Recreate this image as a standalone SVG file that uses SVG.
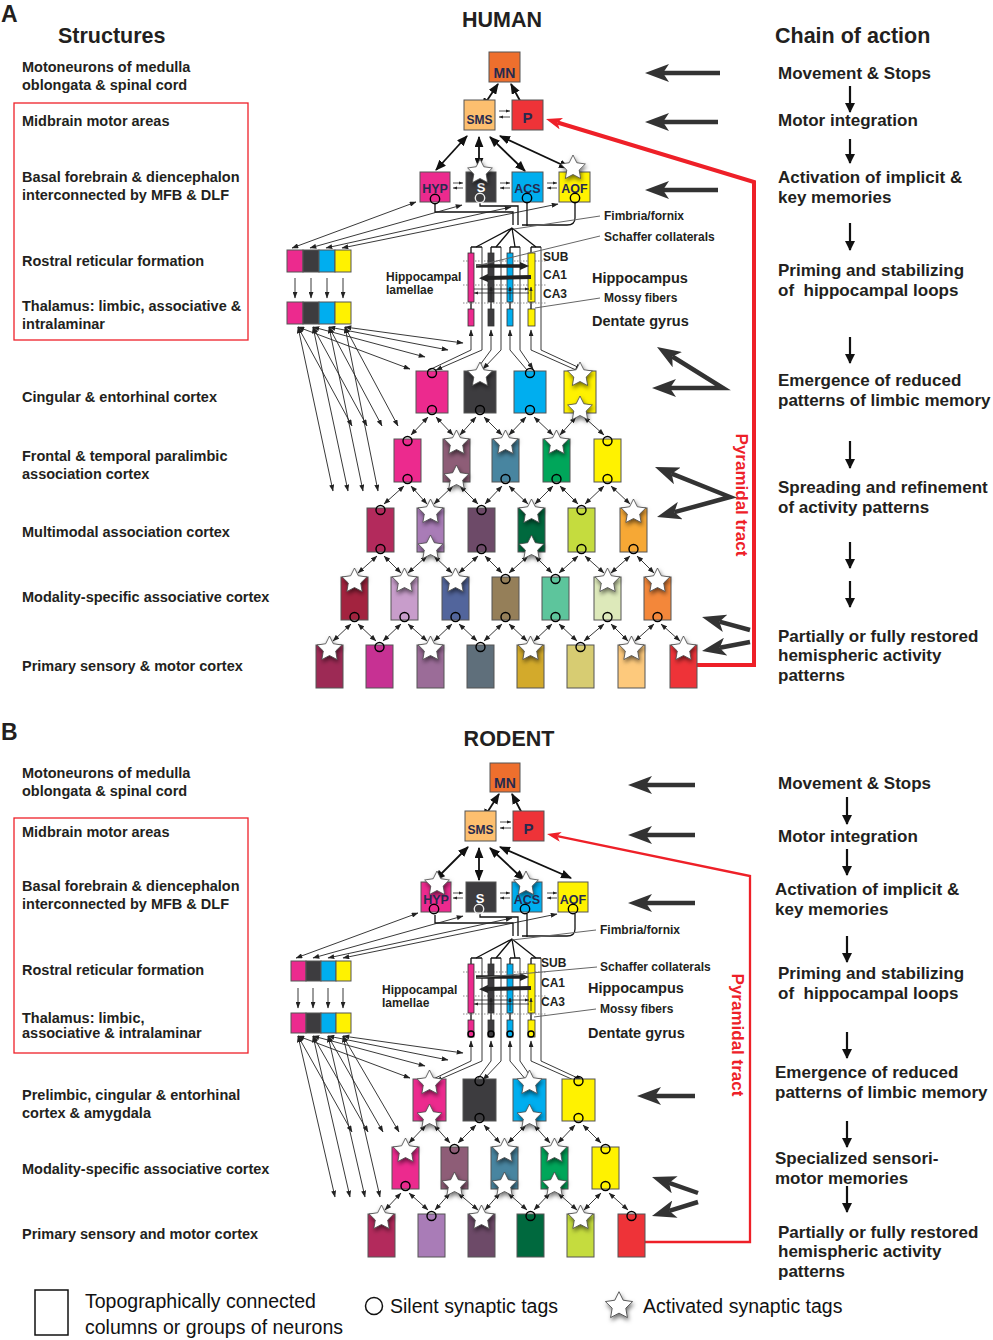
<svg xmlns="http://www.w3.org/2000/svg" xmlns:xlink="http://www.w3.org/1999/xlink" width="993" height="1340" viewBox="0 0 993 1340">
<style>
.t{font-family:"Liberation Sans",Arial,Helvetica,sans-serif;font-weight:bold;fill:#231F20}
.l{font-size:14.5px}
.r{font-size:17px}
.h{font-size:21.5px}
.s{font-size:12px}
.m{font-size:14.5px}
.bl{font-family:"Liberation Sans",Arial,Helvetica,sans-serif;font-weight:bold;fill:#262a4f;text-anchor:middle}
.lg{font-family:"Liberation Sans",Arial,sans-serif;font-size:19.5px;fill:#111}
.bx{stroke:#555;stroke-width:1}
.tg{fill:none;stroke:#000;stroke-width:1.4}
.cn{stroke:#222;stroke-width:0.9;fill:none;marker-start:url(#sa);marker-end:url(#sa)}
.c1{stroke:#222;stroke-width:0.9;fill:none;marker-end:url(#sa)}
.w{stroke:#111;stroke-width:1.3;fill:none}
.md{stroke:#111;stroke-width:1.8;fill:none;marker-start:url(#ma);marker-end:url(#ma)}
.m1{stroke:#111;stroke-width:1.8;fill:none;marker-end:url(#ma)}
.ga{stroke:#333;stroke-width:4.5;fill:none;marker-end:url(#ga)}
.gv{stroke:#333;stroke-width:4.5;fill:none;stroke-linejoin:miter;marker-start:url(#ga);marker-end:url(#ga)}
.da{stroke:#111;stroke-width:2.2;marker-end:url(#da)}
.ld{stroke:#666;stroke-width:1;fill:none}
.dt{stroke:#888;stroke-width:1;stroke-dasharray:1.5 1.5;fill:none}
.tw{stroke:#222;stroke-width:0.8;marker-end:url(#ta)}
.pt{font-family:"Liberation Sans",Arial,sans-serif;font-weight:bold;font-size:17px;fill:#EE2028;text-anchor:middle}
</style>
<defs>
<filter id="sh" x="-50%" y="-50%" width="200%" height="200%"><feDropShadow dx="1" dy="2.5" stdDeviation="2" flood-color="#000" flood-opacity="0.55"/></filter>
<polygon id="st" points="0,-13 3.82,-5.26 12.36,-4.02 6.18,2.01 7.64,10.52 0,6.5 -7.64,10.52 -6.18,2.01 -12.36,-4.02 -3.82,-5.26" fill="#fff" stroke="#444" stroke-width="0.8" filter="url(#sh)"/>
<marker id="sa" viewBox="0 0 8 6" refX="7.5" refY="3" markerWidth="7" markerHeight="5" markerUnits="userSpaceOnUse" orient="auto-start-reverse"><path d="M0,0L8,3L0,6z" fill="#222"/></marker>
<marker id="ta" viewBox="0 0 8 6" refX="7.5" refY="3" markerWidth="4.5" markerHeight="3.5" markerUnits="userSpaceOnUse" orient="auto-start-reverse"><path d="M0,0L8,3L0,6z" fill="#222"/></marker>
<marker id="ma" viewBox="0 0 10 8" refX="9" refY="4" markerWidth="11" markerHeight="9" markerUnits="userSpaceOnUse" orient="auto-start-reverse"><path d="M0,0L10,4L0,8z" fill="#111"/></marker>
<marker id="ka" viewBox="0 0 9 8" refX="2" refY="4" markerWidth="9" markerHeight="8" markerUnits="userSpaceOnUse" orient="auto"><path d="M0,0L9,4L0,8z" fill="#222"/></marker>
<marker id="da" viewBox="0 0 10 10" refX="9" refY="5" markerWidth="10" markerHeight="10" markerUnits="userSpaceOnUse" orient="auto"><path d="M0,0L10,5L0,10z" fill="#111"/></marker>
<marker id="ga" viewBox="0 0 24 18" refX="6" refY="9" markerWidth="24" markerHeight="18" markerUnits="userSpaceOnUse" orient="auto-start-reverse"><path d="M24,9L0,0L6,9L0,18z" fill="#333"/></marker>
<marker id="ra" viewBox="0 0 16 12" refX="4" refY="6" markerWidth="16" markerHeight="12" markerUnits="userSpaceOnUse" orient="auto"><path d="M16,6L0,0L4,6L0,12z" fill="#EE2028"/></marker>
<marker id="rb" viewBox="0 0 14 10" refX="3.5" refY="5" markerWidth="14" markerHeight="10" markerUnits="userSpaceOnUse" orient="auto"><path d="M14,5L0,0L3.5,5L0,10z" fill="#EE2028"/></marker>
<g id="hc">
<path class="w" d="M435,204V212H513V225M480,203V206H518V225M527,203V226M575,203V218Q575,225 567,225H522"/>
<path class="w" d="M512,228L476,247M512,228L496,247M512,228L515,247M512,228L536,247"/>
<path class="w" d="M471,247H482M491,247H501M510,247H520M531,247H541M471,247V309M491,247V309M510,247V309M531,247V309"/>
<path class="c1" d="M482,247V350L436,370"/>
<path class="c1" d="M501,247V350L483,369"/>
<path class="c1" d="M520,247V350L533,369"/>
<path class="c1" d="M541,247V350L582,369"/>
<path class="c1" d="M429,370L471,350V330"/>
<path class="c1" d="M477,369L491,350V330"/>
<path class="c1" d="M527,370L510,350V330"/>
<path class="c1" d="M576,370L531,350V330"/>
<path class="dt" d="M463,261H547M463,285H547M463,303H547"/>
<rect x="468" y="253" width="6" height="49" fill="#EC2A8E" stroke="#333" stroke-width="0.8"/>
<rect x="488" y="253" width="6" height="49" fill="#3D3C3F" stroke="#333" stroke-width="0.8"/>
<rect x="507" y="253" width="6" height="49" fill="#00AEEF" stroke="#333" stroke-width="0.8"/>
<rect x="528" y="253" width="7" height="49" fill="#FFF200" stroke="#333" stroke-width="0.8"/>
<rect x="468" y="309" width="6" height="17" fill="#EC2A8E" stroke="#333" stroke-width="0.8"/>
<rect x="488" y="309" width="6" height="17" fill="#3D3C3F" stroke="#333" stroke-width="0.8"/>
<rect x="507" y="309" width="6" height="17" fill="#00AEEF" stroke="#333" stroke-width="0.8"/>
<rect x="528" y="309" width="7" height="17" fill="#FFF200" stroke="#333" stroke-width="0.8"/>
<path d="M476,266H522" stroke="#222" stroke-width="3.5" marker-end="url(#ka)"/>
<path d="M531,277L486,278" stroke="#222" stroke-width="4" marker-end="url(#ka)"/>
<path class="tw" d="M474,289H529"/>
<path class="tw" d="M529,293H474"/>
<path class="tw" d="M491,300V287"/>
<path class="tw" d="M510,300V287"/>
<path class="tw" d="M531,300V287"/>
</g>
</defs>
<rect width="993" height="1340" fill="#fff"/>

<g id="titles">
<text class="t" x="1" y="22" font-size="23">A</text>
<text class="t" x="1" y="740" font-size="23">B</text>
<text class="t h" x="502" y="27" text-anchor="middle">HUMAN</text>
<text class="t h" x="509" y="746" text-anchor="middle">RODENT</text>
<text class="t h" x="58" y="43">Structures</text>
<text class="t h" x="775" y="43">Chain of action</text>
</g>

<g id="human-structures">
<rect x="14" y="103" width="234" height="237" fill="none" stroke="#EE2028" stroke-width="1.3"/>
<text class="t l" x="22" y="72">Motoneurons of medulla</text>
<text class="t l" x="22" y="90">oblongata &amp; spinal cord</text>
<text class="t l" x="22" y="126">Midbrain motor areas</text>
<text class="t l" x="22" y="182">Basal forebrain &amp; diencephalon</text>
<text class="t l" x="22" y="200">interconnected by MFB &amp; DLF</text>
<text class="t l" x="22" y="266">Rostral reticular formation</text>
<text class="t l" x="22" y="311">Thalamus: limbic, associative &amp;</text>
<text class="t l" x="22" y="329">intralaminar</text>
<text class="t l" x="22" y="402">Cingular &amp; entorhinal cortex</text>
<text class="t l" x="22" y="461">Frontal &amp; temporal paralimbic</text>
<text class="t l" x="22" y="479">association cortex</text>
<text class="t l" x="22" y="537">Multimodal association cortex</text>
<text class="t l" x="22" y="602">Modality-specific associative cortex</text>
<text class="t l" x="22" y="671">Primary sensory &amp; motor cortex</text>
</g>

<g id="rodent-structures">
<rect x="14" y="818" width="234" height="235" fill="none" stroke="#EE2028" stroke-width="1.3"/>
<text class="t l" x="22" y="778">Motoneurons of medulla</text>
<text class="t l" x="22" y="796">oblongata &amp; spinal cord</text>
<text class="t l" x="22" y="837">Midbrain motor areas</text>
<text class="t l" x="22" y="891">Basal forebrain &amp; diencephalon</text>
<text class="t l" x="22" y="909">interconnected by MFB &amp; DLF</text>
<text class="t l" x="22" y="975">Rostral reticular formation</text>
<text class="t l" x="22" y="1023">Thalamus: limbic,</text>
<text class="t l" x="22" y="1038">associative &amp; intralaminar</text>
<text class="t l" x="22" y="1100">Prelimbic, cingular &amp; entorhinal</text>
<text class="t l" x="22" y="1118">cortex &amp; amygdala</text>
<text class="t l" x="22" y="1174">Modality-specific associative cortex</text>
<text class="t l" x="22" y="1239">Primary sensory and motor cortex</text>
</g>

<g id="human-chain">
<text class="t r" x="778" y="79">Movement &amp; Stops</text>
<text class="t r" x="778" y="126">Motor integration</text>
<text class="t r" x="778" y="183">Activation of implicit &amp;</text>
<text class="t r" x="778" y="203">key memories</text>
<text class="t r" x="778" y="276">Priming and stabilizing</text>
<text class="t r" x="778" y="296" xml:space="preserve">of  hippocampal loops</text>
<text class="t r" x="778" y="386">Emergence of reduced</text>
<text class="t r" x="778" y="406">patterns of limbic memory</text>
<text class="t r" x="778" y="493">Spreading and refinement</text>
<text class="t r" x="778" y="513">of activity patterns</text>
<text class="t r" x="778" y="642">Partially or fully restored</text>
<text class="t r" x="778" y="661">hemispheric activity</text>
<text class="t r" x="778" y="681">patterns</text>
</g>

<g id="rodent-chain">
<text class="t r" x="778" y="789">Movement &amp; Stops</text>
<text class="t r" x="778" y="842">Motor integration</text>
<text class="t r" x="775" y="895">Activation of implicit &amp;</text>
<text class="t r" x="775" y="915">key memories</text>
<text class="t r" x="778" y="979">Priming and stabilizing</text>
<text class="t r" x="778" y="999" xml:space="preserve">of  hippocampal loops</text>
<text class="t r" x="775" y="1078">Emergence of reduced</text>
<text class="t r" x="775" y="1098">patterns of limbic memory</text>
<text class="t r" x="775" y="1164">Specialized sensori-</text>
<text class="t r" x="775" y="1184">motor memories</text>
<text class="t r" x="778" y="1238">Partially or fully restored</text>
<text class="t r" x="778" y="1257">hemispheric activity</text>
<text class="t r" x="778" y="1277">patterns</text>
</g>

<g id="hippocampus-labels">
<text class="t s" x="604" y="220">Fimbria/fornix</text>
<text class="t s" x="604" y="241">Schaffer collaterals</text>
<text class="t s" x="543" y="261">SUB</text>
<text class="t s" x="543" y="279">CA1</text>
<text class="t s" x="543" y="298">CA3</text>
<text class="t s" x="386" y="281">Hippocampal</text>
<text class="t s" x="386" y="294">lamellae</text>
<text class="t m" x="592" y="283">Hippocampus</text>
<text class="t s" x="604" y="302">Mossy fibers</text>
<text class="t m" x="592" y="326">Dentate gyrus</text>
<text class="t s" x="600" y="934">Fimbria/fornix</text>
<text class="t s" x="600" y="971">Schaffer collaterals</text>
<text class="t s" x="541" y="967">SUB</text>
<text class="t s" x="541" y="987">CA1</text>
<text class="t s" x="541" y="1006">CA3</text>
<text class="t s" x="382" y="994">Hippocampal</text>
<text class="t s" x="382" y="1007">lamellae</text>
<text class="t m" x="588" y="993">Hippocampus</text>
<text class="t s" x="600" y="1013">Mossy fibers</text>
<text class="t m" x="588" y="1038">Dentate gyrus</text>
<text class="pt" transform="translate(736,495) rotate(90)">Pyramidal tract</text>
<text class="pt" transform="translate(732,1035) rotate(90)">Pyramidal tract</text>
</g>

<g id="connectors">
<use href="#hc"/>
<use href="#hc" y="711"/>
<path class="ld" d="M600,216L514,229M600,236L476,266M600,298L535,308"/>
<path class="ld" d="M596,930L512,940M597,967L476,978M596,1009L534,1017"/>
<path class="md" d="M482,108L498,84"/>
<path class="m1" d="M525,110L511,84"/>
<path class="md" d="M467,136L436,170"/>
<path class="md" d="M479,137V168"/>
<path class="md" d="M490,137L525,171"/>
<path class="md" d="M500,136L569,168"/>
<path class="tw" d="M499,111H510"/><path class="tw" d="M510,117H499"/>
<path class="tw" d="M453,183H463"/><path class="tw" d="M463,188H453"/>
<path class="tw" d="M500,183H510"/><path class="tw" d="M510,188H500"/>
<path class="tw" d="M547,183H557"/><path class="tw" d="M557,188H547"/>
<path class="md" d="M483,819L499,794"/>
<path class="m1" d="M526,821L512,794"/>
<path class="md" d="M468,847L435,880"/>
<path class="md" d="M479,848V880"/>
<path class="md" d="M490,848L524,880"/>
<path class="md" d="M500,847L571,878"/>
<path class="tw" d="M500,822H511"/><path class="tw" d="M511,828H500"/>
<path class="tw" d="M453,893H463"/><path class="tw" d="M463,898H453"/>
<path class="tw" d="M500,893H510"/><path class="tw" d="M510,898H500"/>
<path class="tw" d="M547,893H557"/><path class="tw" d="M557,898H547"/>
<path class="cn" d="M292,248L416,202"/><path class="cn" d="M310,248L462,205"/><path class="cn" d="M326,248L511,207"/><path class="cn" d="M342,248L558,204"/>
<path class="c1" d="M295,278V298"/><path class="c1" d="M311,278V298"/><path class="c1" d="M327,278V298"/><path class="c1" d="M343,278V298"/>
<path class="cn" d="M298,327L410,369"/><path class="cn" d="M298,327L352,426"/><path class="cn" d="M298,327L333,491"/>
<path class="cn" d="M313,327L425,357"/><path class="cn" d="M313,327L367,426"/><path class="cn" d="M313,327L348,491"/>
<path class="cn" d="M329,327L448,350"/><path class="cn" d="M329,327L382,426"/><path class="cn" d="M329,327L363,491"/>
<path class="cn" d="M345,327L463,343"/><path class="cn" d="M345,327L398,426"/><path class="cn" d="M345,327L378,491"/>
<path class="cn" d="M296,958L418,913"/><path class="cn" d="M313,958L463,916"/><path class="cn" d="M328,958L512,918"/><path class="cn" d="M343,958L557,914"/>
<path class="c1" d="M298,988V1008"/><path class="c1" d="M313,988V1008"/><path class="c1" d="M328,988V1008"/><path class="c1" d="M343,988V1008"/>
<path class="cn" d="M298,1036L410,1078"/><path class="cn" d="M298,1036L352,1132"/><path class="cn" d="M298,1036L335,1197"/>
<path class="cn" d="M313,1036L425,1066"/><path class="cn" d="M313,1036L368,1132"/><path class="cn" d="M313,1036L350,1197"/>
<path class="cn" d="M328,1036L448,1060"/><path class="cn" d="M328,1036L383,1132"/><path class="cn" d="M328,1036L365,1197"/>
<path class="cn" d="M343,1036L463,1053"/><path class="cn" d="M343,1036L399,1132"/><path class="cn" d="M343,1036L380,1197"/>
<path class="cn" d="M428,417L411,435"/><path class="cn" d="M436,417L453,435"/><path class="cn" d="M476,417L460,435"/><path class="cn" d="M484,417L502,435"/><path class="cn" d="M526,417L509,435"/><path class="cn" d="M534,417L553,435"/><path class="cn" d="M576,417L560,435"/><path class="cn" d="M584,417L604,435"/>
<path class="cn" d="M404,486L384,504"/><path class="cn" d="M411,486L427,504"/><path class="cn" d="M453,486L434,504"/><path class="cn" d="M460,486L478,504"/><path class="cn" d="M502,486L485,504"/><path class="cn" d="M509,486L528,504"/><path class="cn" d="M553,486L535,504"/><path class="cn" d="M560,486L578,504"/><path class="cn" d="M604,486L585,504"/><path class="cn" d="M611,486L630,504"/>
<path class="cn" d="M377,556L358,573"/><path class="cn" d="M384,556L401,573"/><path class="cn" d="M427,556L408,573"/><path class="cn" d="M434,556L452,573"/><path class="cn" d="M478,556L459,573"/><path class="cn" d="M485,556L502,573"/><path class="cn" d="M528,556L509,573"/><path class="cn" d="M535,556L552,573"/><path class="cn" d="M578,556L559,573"/><path class="cn" d="M585,556L604,573"/><path class="cn" d="M630,556L611,573"/><path class="cn" d="M637,556L654,573"/>
<path class="cn" d="M351,624L333,641"/><path class="cn" d="M358,624L376,641"/><path class="cn" d="M401,624L383,641"/><path class="cn" d="M408,624L427,641"/><path class="cn" d="M452,624L434,641"/><path class="cn" d="M459,624L477,641"/><path class="cn" d="M502,624L484,641"/><path class="cn" d="M509,624L527,641"/><path class="cn" d="M552,624L534,641"/><path class="cn" d="M559,624L577,641"/><path class="cn" d="M604,624L584,641"/><path class="cn" d="M611,624L628,641"/><path class="cn" d="M654,624L635,641"/><path class="cn" d="M661,624L680,641"/>
<path class="cn" d="M426,1125L409,1143"/><path class="cn" d="M434,1125L450,1143"/><path class="cn" d="M476,1125L458,1143"/><path class="cn" d="M484,1125L500,1143"/><path class="cn" d="M526,1125L508,1143"/><path class="cn" d="M534,1125L550,1143"/><path class="cn" d="M575,1125L558,1143"/><path class="cn" d="M583,1125L601,1143"/>
<path class="cn" d="M401,1193L385,1210"/><path class="cn" d="M409,1193L428,1210"/><path class="cn" d="M450,1193L435,1210"/><path class="cn" d="M458,1193L478,1210"/><path class="cn" d="M500,1193L485,1210"/><path class="cn" d="M508,1193L527,1210"/><path class="cn" d="M550,1193L534,1210"/><path class="cn" d="M558,1193L577,1210"/><path class="cn" d="M601,1193L584,1210"/><path class="cn" d="M609,1193L628,1210"/>
<path d="M697,665H754V182L557.5,122.5" fill="none" stroke="#EE2028" stroke-width="4" marker-end="url(#ra)"/>
<path d="M645,1242H750V876L557.3,836.1" fill="none" stroke="#EE2028" stroke-width="2.3" marker-end="url(#rb)"/>
<path class="ga" d="M720,73H663"/>
<path class="ga" d="M718,122H663"/>
<path class="ga" d="M718,190H663"/>
<path class="gv" d="M672.3,356.5L723,388L670,388"/>
<path class="gv" d="M671.7,473.7L730,497L674.4,512.2"/>
<path class="ga" d="M750,630L719.4,621.7"/>
<path class="ga" d="M750,642L719.7,647.7"/>
<path class="ga" d="M695,785H646"/>
<path class="ga" d="M695,835H646"/>
<path class="ga" d="M695,903H646"/>
<path class="ga" d="M695,1096H655"/>
<path class="ga" d="M698,1193L669,1182.9"/>
<path class="ga" d="M698,1202L669.2,1210.8"/>
<path class="da" d="M850,86V112"/><path class="da" d="M850,139V163"/><path class="da" d="M850,223V250"/><path class="da" d="M850,337V363"/><path class="da" d="M850,441V468"/><path class="da" d="M850,542V568"/><path class="da" d="M850,581V607"/>
<path class="da" d="M847,797V824"/><path class="da" d="M847,849V875"/><path class="da" d="M847,936V962"/><path class="da" d="M847,1032V1058"/><path class="da" d="M847,1121V1147"/><path class="da" d="M847,1186V1212"/>
</g>

<g id="human-top">
<g id="h-MN"><rect class="bx" x="489" y="52" width="31" height="30" fill="#EE6F2D"/><text class="bl" x="504.5" y="78" font-size="14">MN</text></g>
<g id="h-SMS"><rect class="bx" x="464" y="100" width="31" height="30" fill="#FDBF6F"/><text class="bl" x="479.5" y="124" font-size="12">SMS</text></g>
<g id="h-P"><rect class="bx" x="512" y="100" width="31" height="30" fill="#EE3338"/><text class="bl" x="527.5" y="123" font-size="15">P</text></g>
<g id="h-HYP"><rect class="bx" x="420" y="172" width="30" height="30" fill="#EC2A8E"/><text class="bl" x="435" y="193" font-size="12.5">HYP</text><circle class="tg" cx="435" cy="199" r="4.7"/></g>
<g id="h-S"><rect class="bx" x="466" y="172" width="30" height="30" fill="#3D3C3F"/><text class="bl" x="481" y="192" font-size="13" style="fill:#fff">S</text><circle class="tg" cx="480" cy="198" r="4.7" style="stroke:#eee"/><use href="#st" x="480" y="172"/></g>
<g id="h-ACS"><rect class="bx" x="512" y="172" width="31" height="30" fill="#00AEEF"/><text class="bl" x="527.5" y="193" font-size="12.5">ACS</text><circle class="tg" cx="527" cy="198" r="4.7"/></g>
<g id="h-AOF"><rect class="bx" x="559" y="172" width="31" height="30" fill="#FFF200"/><text class="bl" x="574.5" y="193" font-size="12.5">AOF</text><circle class="tg" cx="575" cy="198" r="4.7"/><use href="#st" x="573" y="168"/></g>
</g>

<g id="rodent-top">
<g id="r-MN"><rect class="bx" x="490" y="763" width="30" height="29" fill="#EE6F2D"/><text class="bl" x="505" y="788" font-size="14">MN</text></g>
<g id="r-SMS"><rect class="bx" x="465" y="811" width="31" height="30" fill="#FDBF6F"/><text class="bl" x="480.5" y="834" font-size="12">SMS</text></g>
<g id="r-P"><rect class="bx" x="513" y="811" width="31" height="30" fill="#EE3338"/><text class="bl" x="528.5" y="834" font-size="15">P</text></g>
<g id="r-HYP"><rect class="bx" x="421" y="882" width="30" height="30" fill="#EC2A8E"/><use href="#st" x="437" y="884"/><text class="bl" x="436" y="904" font-size="12.5">HYP</text><circle class="tg" cx="434" cy="909" r="4.7"/></g>
<g id="r-S"><rect class="bx" x="466" y="882" width="30" height="30" fill="#3D3C3F"/><text class="bl" x="480" y="903" font-size="13" style="fill:#fff">S</text><circle class="tg" cx="479" cy="909" r="4.7" style="stroke:#eee"/></g>
<g id="r-ACS"><rect class="bx" x="512" y="882" width="30" height="30" fill="#00AEEF"/><use href="#st" x="526" y="884"/><text class="bl" x="527" y="904" font-size="12.5">ACS</text><circle class="tg" cx="525" cy="909" r="4.7"/></g>
<g id="r-AOF"><rect class="bx" x="558" y="882" width="30" height="30" fill="#FFF200"/><text class="bl" x="573" y="904" font-size="12.5">AOF</text><circle class="tg" cx="573" cy="909" r="4.7"/></g>
</g>

<g id="human-thalamic-bars">
<g id="h-bar1"><rect class="bx" x="287" y="250" width="16" height="22" fill="#EC2A8E"/><rect class="bx" x="303" y="250" width="16" height="22" fill="#3D3C3F"/><rect class="bx" x="319" y="250" width="16" height="22" fill="#00AEEF"/><rect class="bx" x="335" y="250" width="16" height="22" fill="#FFF200"/></g>
<g id="h-bar2"><rect class="bx" x="287" y="302" width="16" height="22" fill="#EC2A8E"/><rect class="bx" x="303" y="302" width="16" height="22" fill="#3D3C3F"/><rect class="bx" x="319" y="302" width="16" height="22" fill="#00AEEF"/><rect class="bx" x="335" y="302" width="16" height="22" fill="#FFF200"/></g>
</g>
<g id="rodent-thalamic-bars">
<g id="r-bar1"><rect class="bx" x="291" y="961" width="15" height="20" fill="#EC2A8E"/><rect class="bx" x="306" y="961" width="15" height="20" fill="#3D3C3F"/><rect class="bx" x="321" y="961" width="15" height="20" fill="#00AEEF"/><rect class="bx" x="336" y="961" width="15" height="20" fill="#FFF200"/></g>
<g id="r-bar2"><rect class="bx" x="291" y="1013" width="15" height="20" fill="#EC2A8E"/><rect class="bx" x="306" y="1013" width="15" height="20" fill="#3D3C3F"/><rect class="bx" x="321" y="1013" width="15" height="20" fill="#00AEEF"/><rect class="bx" x="336" y="1013" width="15" height="20" fill="#FFF200"/></g>
<g id="r-dg-tags"><circle class="tg" cx="471" cy="1034" r="3" stroke-width="1"/><circle class="tg" cx="491" cy="1034" r="3" stroke-width="1"/><circle class="tg" cx="510" cy="1034" r="3" stroke-width="1"/><circle class="tg" cx="531" cy="1034" r="3" stroke-width="1"/></g>
</g>

<g id="human-row1">
<g id="h11"><rect class="bx" x="416" y="371" width="32" height="42" fill="#EC2A8E"/><circle class="tg" cx="432" cy="373" r="4.5"/><circle class="tg" cx="432" cy="410" r="4.5"/></g>
<g id="h12"><rect class="bx" x="464" y="371" width="32" height="42" fill="#3D3C3F"/><use href="#st" x="480" y="375"/><circle class="tg" cx="480" cy="410" r="4.5"/></g>
<g id="h13"><rect class="bx" x="514" y="371" width="32" height="42" fill="#00AEEF"/><circle class="tg" cx="530" cy="373" r="4.5"/><circle class="tg" cx="530" cy="410" r="4.5"/></g>
<g id="h14"><rect class="bx" x="564" y="371" width="32" height="42" fill="#FFF200"/><use href="#st" x="580" y="375"/><use href="#st" x="580" y="409"/></g>
</g>
<g id="human-row2">
<g id="h21"><rect class="bx" x="394" y="439" width="27" height="43" fill="#EC2A8E"/><circle class="tg" cx="407.5" cy="441" r="4.5"/><circle class="tg" cx="407.5" cy="479" r="4.5"/></g>
<g id="h22"><rect class="bx" x="443" y="439" width="27" height="43" fill="#8E5D77"/><use href="#st" x="456.5" y="443"/><use href="#st" x="456.5" y="478"/></g>
<g id="h23"><rect class="bx" x="492" y="439" width="27" height="43" fill="#4885A0"/><use href="#st" x="505.5" y="443"/><circle class="tg" cx="505.5" cy="479" r="4.5"/></g>
<g id="h24"><rect class="bx" x="543" y="439" width="27" height="43" fill="#00A65A"/><use href="#st" x="556.5" y="443"/><circle class="tg" cx="556.5" cy="479" r="4.5"/></g>
<g id="h25"><rect class="bx" x="594" y="439" width="27" height="43" fill="#FFF200"/><circle class="tg" cx="607.5" cy="441" r="4.5"/><circle class="tg" cx="607.5" cy="479" r="4.5"/></g>
</g>
<g id="human-row3">
<g id="h31"><rect class="bx" x="367" y="508" width="27" height="44" fill="#B32A5C"/><circle class="tg" cx="380.5" cy="510" r="4.5"/><circle class="tg" cx="380.5" cy="549" r="4.5"/></g>
<g id="h32"><rect class="bx" x="417" y="508" width="27" height="44" fill="#A97CB7"/><use href="#st" x="430.5" y="512"/><use href="#st" x="430.5" y="548"/></g>
<g id="h33"><rect class="bx" x="468" y="508" width="27" height="44" fill="#6D4A68"/><circle class="tg" cx="481.5" cy="510" r="4.5"/><circle class="tg" cx="481.5" cy="549" r="4.5"/></g>
<g id="h34"><rect class="bx" x="518" y="508" width="27" height="44" fill="#00693E"/><use href="#st" x="531.5" y="512"/><use href="#st" x="531.5" y="548"/></g>
<g id="h35"><rect class="bx" x="568" y="508" width="27" height="44" fill="#C5DC3E"/><circle class="tg" cx="581.5" cy="510" r="4.5"/><circle class="tg" cx="581.5" cy="549" r="4.5"/></g>
<g id="h36"><rect class="bx" x="620" y="508" width="27" height="44" fill="#F6A835"/><use href="#st" x="633.5" y="512"/><circle class="tg" cx="633.5" cy="549" r="4.5"/></g>
</g>
<g id="human-row4">
<g id="h41"><rect class="bx" x="341" y="577" width="27" height="43" fill="#A3233F"/><use href="#st" x="354.5" y="581"/><circle class="tg" cx="354.5" cy="617" r="4.5"/></g>
<g id="h42"><rect class="bx" x="391" y="577" width="27" height="43" fill="#C89DCB"/><use href="#st" x="404.5" y="581"/><circle class="tg" cx="404.5" cy="617" r="4.5"/></g>
<g id="h43"><rect class="bx" x="442" y="577" width="27" height="43" fill="#52659C"/><use href="#st" x="455.5" y="581"/><circle class="tg" cx="455.5" cy="617" r="4.5"/></g>
<g id="h44"><rect class="bx" x="492" y="577" width="27" height="43" fill="#957F59"/><circle class="tg" cx="505.5" cy="579" r="4.5"/><circle class="tg" cx="505.5" cy="617" r="4.5"/></g>
<g id="h45"><rect class="bx" x="542" y="577" width="27" height="43" fill="#5DC59C"/><circle class="tg" cx="555.5" cy="579" r="4.5"/><circle class="tg" cx="555.5" cy="617" r="4.5"/></g>
<g id="h46"><rect class="bx" x="594" y="577" width="27" height="43" fill="#DDE9BA"/><use href="#st" x="607.5" y="581"/><circle class="tg" cx="607.5" cy="617" r="4.5"/></g>
<g id="h47"><rect class="bx" x="644" y="577" width="27" height="43" fill="#F3873A"/><use href="#st" x="657.5" y="581"/><circle class="tg" cx="657.5" cy="617" r="4.5"/></g>
</g>
<g id="human-row5">
<g id="h51"><rect class="bx" x="316" y="645" width="27" height="43" fill="#9D2A55"/><use href="#st" x="329.5" y="649"/></g>
<g id="h52"><rect class="bx" x="366" y="645" width="27" height="43" fill="#C73193"/><circle class="tg" cx="379.5" cy="647" r="4.5"/></g>
<g id="h53"><rect class="bx" x="417" y="645" width="27" height="43" fill="#9B6C98"/><use href="#st" x="430.5" y="649"/></g>
<g id="h54"><rect class="bx" x="467" y="645" width="27" height="43" fill="#5F6F7B"/><circle class="tg" cx="480.5" cy="647" r="4.5"/></g>
<g id="h55"><rect class="bx" x="517" y="645" width="27" height="43" fill="#D3AA2B"/><use href="#st" x="530.5" y="649"/></g>
<g id="h56"><rect class="bx" x="567" y="645" width="27" height="43" fill="#D7CC72"/><circle class="tg" cx="580.5" cy="647" r="4.5"/></g>
<g id="h57"><rect class="bx" x="618" y="645" width="27" height="43" fill="#FDC97C"/><use href="#st" x="631.5" y="649"/></g>
<g id="h58"><rect class="bx" x="670" y="645" width="27" height="43" fill="#EE3338"/><use href="#st" x="683.5" y="649"/></g>
</g>

<g id="rodent-row1">
<g id="r11"><rect class="bx" x="413" y="1079" width="33" height="42" fill="#EC2A8E"/><use href="#st" x="429.5" y="1083"/><use href="#st" x="429.5" y="1117"/></g>
<g id="r12"><rect class="bx" x="463" y="1079" width="33" height="42" fill="#3D3C3F"/><circle class="tg" cx="479.5" cy="1081" r="4.5"/><circle class="tg" cx="479.5" cy="1118" r="4.5"/></g>
<g id="r13"><rect class="bx" x="513" y="1079" width="33" height="42" fill="#00AEEF"/><use href="#st" x="529.5" y="1083"/><use href="#st" x="529.5" y="1117"/></g>
<g id="r14"><rect class="bx" x="562" y="1079" width="33" height="42" fill="#FFF200"/><circle class="tg" cx="578.5" cy="1081" r="4.5"/><circle class="tg" cx="578.5" cy="1118" r="4.5"/></g>
</g>
<g id="rodent-row2">
<g id="r21"><rect class="bx" x="392" y="1147" width="27" height="42" fill="#EC2A8E"/><use href="#st" x="405.5" y="1151"/><circle class="tg" cx="405.5" cy="1186" r="4.5"/></g>
<g id="r22"><rect class="bx" x="441" y="1147" width="27" height="42" fill="#8E5D77"/><circle class="tg" cx="454.5" cy="1149" r="4.5"/><use href="#st" x="454.5" y="1185"/></g>
<g id="r23"><rect class="bx" x="491" y="1147" width="27" height="42" fill="#4885A0"/><use href="#st" x="504.5" y="1151"/><use href="#st" x="504.5" y="1185"/></g>
<g id="r24"><rect class="bx" x="541" y="1147" width="27" height="42" fill="#00A65A"/><use href="#st" x="554.5" y="1151"/><use href="#st" x="554.5" y="1185"/></g>
<g id="r25"><rect class="bx" x="592" y="1147" width="27" height="42" fill="#FFF200"/><circle class="tg" cx="605.5" cy="1149" r="4.5"/><circle class="tg" cx="605.5" cy="1186" r="4.5"/></g>
</g>
<g id="rodent-row3">
<g id="r31"><rect class="bx" x="368" y="1214" width="27" height="43" fill="#B32A5C"/><use href="#st" x="381.5" y="1218"/></g>
<g id="r32"><rect class="bx" x="418" y="1214" width="27" height="43" fill="#A97CB7"/><circle class="tg" cx="431.5" cy="1216" r="4.5"/></g>
<g id="r33"><rect class="bx" x="468" y="1214" width="27" height="43" fill="#6D4A68"/><use href="#st" x="481.5" y="1218"/></g>
<g id="r34"><rect class="bx" x="517" y="1214" width="27" height="43" fill="#00693E"/><circle class="tg" cx="530.5" cy="1216" r="4.5"/></g>
<g id="r35"><rect class="bx" x="567" y="1214" width="27" height="43" fill="#C5DC3E"/><use href="#st" x="580.5" y="1218"/></g>
<g id="r36"><rect class="bx" x="618" y="1214" width="27" height="43" fill="#EE3338"/><circle class="tg" cx="631.5" cy="1216" r="4.5"/></g>
</g>

<g id="legend">
<rect x="35" y="1290" width="33" height="45" fill="none" stroke="#111" stroke-width="1.5"/>
<text class="lg" x="85" y="1308">Topographically connected</text>
<text class="lg" x="85" y="1334">columns or groups of neurons</text>
<circle cx="374" cy="1306" r="8.5" fill="none" stroke="#111" stroke-width="1.5"/>
<text class="lg" x="390" y="1313">Silent synaptic tags</text>
<use href="#st" x="619" y="1306" transform="translate(619,1306) scale(1.1) translate(-619,-1306)"/>
<text class="lg" x="643" y="1313">Activated synaptic tags</text>
</g>
</svg>
